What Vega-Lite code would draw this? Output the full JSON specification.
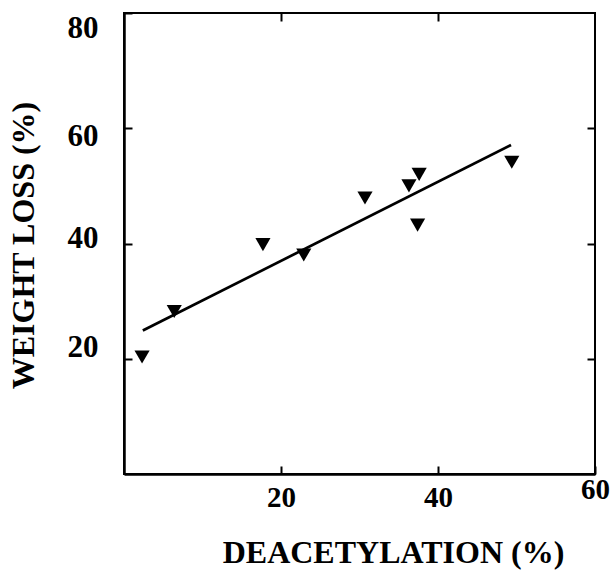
{
  "$schema": "https://vega.github.io/schema/vega-lite/v6.json",
  "width": 471,
  "height": 461,
  "autosize": {"type": "none"},
  "padding": {"left": 124, "top": 13, "right": 18, "bottom": 97},
  "background": "white",
  "config": {
    "view": {"stroke": "black", "strokeWidth": 2},
    "axis": {
      "grid": false,
      "labelFont": "Liberation Serif",
      "labelFontWeight": "bold",
      "labelColor": "black",
      "titleFont": "Liberation Serif",
      "titleFontWeight": "bold",
      "titleColor": "black",
      "titleFontSize": 32,
      "domainColor": "black",
      "domainWidth": 2.5,
      "tickColor": "black",
      "tickWidth": 2,
      "tickSize": -8
    }
  },
  "datasets": {
    "points": [
      {"deacetylation": 2.3, "weight_loss": 20.3},
      {"deacetylation": 6.4, "weight_loss": 28.2},
      {"deacetylation": 17.7, "weight_loss": 39.8},
      {"deacetylation": 22.9, "weight_loss": 38.0},
      {"deacetylation": 30.7, "weight_loss": 47.9},
      {"deacetylation": 36.3, "weight_loss": 50.0},
      {"deacetylation": 37.6, "weight_loss": 52.0},
      {"deacetylation": 37.4, "weight_loss": 43.2},
      {"deacetylation": 49.4, "weight_loss": 54.1}
    ],
    "fit": [
      {"deacetylation": 2.4, "weight_loss": 24.9},
      {"deacetylation": 49.3, "weight_loss": 57.1}
    ]
  },
  "layer": [
    {
      "data": {"name": "fit"},
      "mark": {"type": "line", "color": "black", "strokeWidth": 2.7},
      "encoding": {
        "x": {
          "field": "deacetylation",
          "type": "quantitative",
          "scale": {"domain": [0, 60], "nice": false},
          "axis": {
            "orient": "bottom",
            "values": [20, 40, 60],
            "labelFontSize": 29,
            "labelPadding": {"condition": {"test": "datum.value == 60", "value": 9}, "value": 17},
            "labelFlush": false,
            "labelOverlap": false,
            "title": "DEACETYLATION (%)",
            "titleX": 269,
            "titleY": 88,
            "titleAlign": "center",
            "titleBaseline": "alphabetic"
          }
        },
        "y": {
          "field": "weight_loss",
          "type": "quantitative",
          "scale": {"domain": [0, 80], "nice": false},
          "axis": {
            "orient": "left",
            "values": [20, 40, 60, 80],
            "labelFontSize": 31,
            "labelPadding": 34,
            "labelFlush": false,
            "labelOverlap": false,
            "labelOffset": {"condition": [
              {"test": "datum.value == 80", "value": 15},
              {"test": "datum.value == 60", "value": 8},
              {"test": "datum.value == 40", "value": -5}
            ], "value": -11},
            "title": "WEIGHT LOSS (%)",
            "titleX": -91,
            "titleY": 232,
            "titleAngle": -90,
            "titleAlign": "center",
            "titleBaseline": "alphabetic"
          }
        }
      }
    },
    {
      "data": {"name": "points"},
      "mark": {"type": "point", "shape": "triangle-down", "filled": true, "color": "black", "opacity": 1, "size": 230},
      "encoding": {
        "x": {
          "field": "deacetylation",
          "type": "quantitative",
          "scale": {"domain": [0, 60], "nice": false},
          "axis": {"orient": "top", "values": [20, 40], "labels": false, "domain": false, "title": null}
        },
        "y": {
          "field": "weight_loss",
          "type": "quantitative",
          "scale": {"domain": [0, 80], "nice": false},
          "axis": {"orient": "right", "values": [20, 40, 60], "labels": false, "domain": false, "title": null}
        }
      }
    }
  ],
  "resolve": {"scale": {"x": "independent", "y": "independent"}, "axis": {"x": "independent", "y": "independent"}}
}
